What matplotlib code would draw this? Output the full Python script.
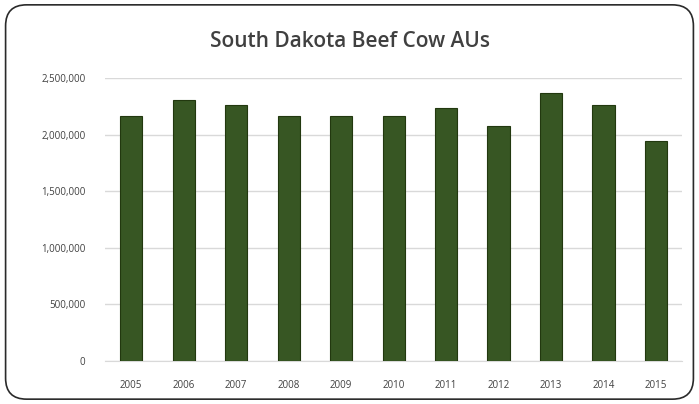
import matplotlib
matplotlib.use("Agg")
import matplotlib.pyplot as plt
from matplotlib.patches import FancyBboxPatch
from matplotlib.ticker import FuncFormatter

years = ["2005", "2006", "2007", "2008", "2009", "2010", "2011", "2012", "2013", "2014", "2015"]
values = [2167000, 2306000, 2261000, 2167000, 2167000, 2167000, 2232000, 2079000, 2370000, 2258000, 1946000]
yticks = [0, 500000, 1000000, 1500000, 2000000, 2500000]

plt.rcParams['font.family'] = ['Open Sans', 'DejaVu Sans']

fig = plt.figure(figsize=(6.99, 4.04), dpi=100)
fig.patch.set_facecolor("white")

border = FancyBboxPatch((0.008, 0.012), 0.984, 0.976, boxstyle="round,pad=0,rounding_size=0.03",
                        transform=fig.transFigure, facecolor="none", edgecolor="#2a2a2a",
                        linewidth=1.2, zorder=5, mutation_aspect=699/404)
fig.patches.append(border)

ax = fig.add_axes([0.150, 0.1064, 0.826, 0.7006])
ax.set_facecolor("none")
x = range(len(years))
ax.bar(x, values, width=0.42, color="#375623", edgecolor="#22380f", linewidth=0.8, zorder=3)
ax.set_xlim(-0.5, len(years) - 0.5)
ax.set_ylim(0, 2500000)
ax.set_yticks(yticks)
ax.yaxis.set_major_formatter(FuncFormatter(lambda v, p: f"{int(v):,}"))
ax.set_xticks(list(x))
ax.set_xticklabels(years)
ax.grid(axis="y", color="#d9d9d9", linewidth=1.0, zorder=0)
ax.set_axisbelow(True)
for s in ["top", "right", "left"]:
    ax.spines[s].set_visible(False)
ax.spines["bottom"].set_color("#d9d9d9")
ax.tick_params(axis="both", length=0, labelsize=7, colors="#404040")
ax.tick_params(axis="y", pad=14)
ax.tick_params(axis="x", pad=14)

fig.text(0.5, 0.897, "South Dakota Beef Cow AUs", ha="center", va="center",
         fontsize=15, color="#404040", fontweight="semibold")

fig.savefig("out.png", dpi=100)
